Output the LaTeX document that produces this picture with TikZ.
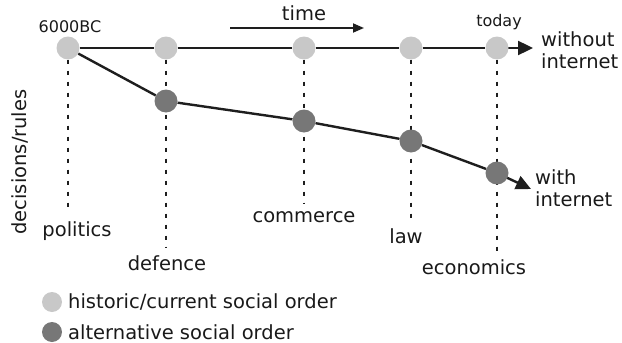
\documentclass[tikz,border=0pt]{standalone}
\usepackage{fontspec}
\setmainfont{DejaVu Sans}
\usetikzlibrary{arrows.meta,backgrounds}
\definecolor{histgray}{HTML}{C8C8C8}
\definecolor{altgray}{HTML}{777777}
\definecolor{linegray}{HTML}{1E1E1E}
\tikzset{
  histdot/.style={circle,fill=histgray,minimum size=23pt,inner sep=0pt},
  altdot/.style={circle,fill=altgray,minimum size=23pt,inner sep=0pt},
  legdot/.style={circle,minimum size=20pt,inner sep=0pt},
  era/.style={font=\fontsize{19.5}{22}\selectfont,inner sep=0pt,text=black!90},
  small/.style={font=\fontsize{16}{18}\selectfont,inner sep=0pt,text=black!90},
  track/.style={line width=2.4pt,draw=linegray},
  guide/.style={line width=2.8pt,draw=linegray,dash pattern=on 4pt off 7pt},
  tip/.style={-{Triangle[length=15pt,width=14pt]}}
}
\begin{document}
\begin{tikzpicture}[x=1pt,y=-1pt]
\useasboundingbox (0,0) rectangle (622,343);

% time axis
\node[era] (timelbl) at (304,13) {time};
\coordinate (ta) at (230,28);
\coordinate (tb) at (364,28);
\draw[line width=1.8pt,draw=linegray,-{Triangle[length=11pt,width=9pt]}] (ta) -- (tb);

% historic order nodes
\node[histdot] (h1) at (68,48) {};
\node[histdot] (h2) at (166,48) {};
\node[histdot] (h3) at (304,48) {};
\node[histdot] (h4) at (411,48) {};
\node[histdot] (h5) at (497,48) {};

% alternative order nodes
\node[altdot] (a2) at (166,101) {};
\node[altdot] (a3) at (304,121) {};
\node[altdot] (a4) at (411,141) {};
\node[altdot] (a5) at (497,173) {};

% domain labels
\node[era] (pol) at (77,231) {politics};
\node[era] (def) at (167,263) {defence};
\node[era] (com) at (304,217) {commerce};
\node[era] (law) at (406,236) {law};
\node[era] (eco) at (474,267) {economics};

% end labels
\node[small] (start) at (70,27) {6000BC};
\node[small] (today) at (499,22) {today};
\node[era,align=left,anchor=west] (wo) at (541,50) {without\\internet};
\node[era,align=left,anchor=west] (wi) at (535,188) {with\\internet};

% guides and trajectories sit behind the nodes
\coordinate (g1) at (68,207);
\coordinate (g2) at (166,248);
\coordinate (g3) at (304,203);
\coordinate (g4) at (411,218);
\coordinate (g5) at (497,251);
\coordinate (wend) at (533,48);
\coordinate (iend) at (531,189);
\begin{scope}[on background layer]
  \draw[guide] (h1.south) -- (g1);
  \draw[guide] (h2.south) -- (g2);
  \draw[guide] (h3.south) -- (g3);
  \draw[guide] (h4.south) -- (g4);
  \draw[guide] (h5.south) -- (g5);
  \draw[track] (h1) -- (h2) -- (h3) -- (h4) -- (h5);
  \draw[track,tip] (h5.center) -- (wend);
  \draw[track] (h1) -- (a2) -- (a3) -- (a4) -- (a5);
  \draw[track,tip] (a5.center) -- (iend);
\end{scope}

% vertical axis label
\node[era,rotate=90] (axis) at (20,162) {decisions/rules};

% legend
\node[legdot,fill=histgray] (lh) at (52,302) {};
\node[era,anchor=west] (lht) at (68,302) {historic/current social order};
\node[legdot,fill=altgray] (la) at (52,332) {};
\node[era,anchor=west] (lat) at (68,332) {alternative social order};
\end{tikzpicture}
\end{document}
